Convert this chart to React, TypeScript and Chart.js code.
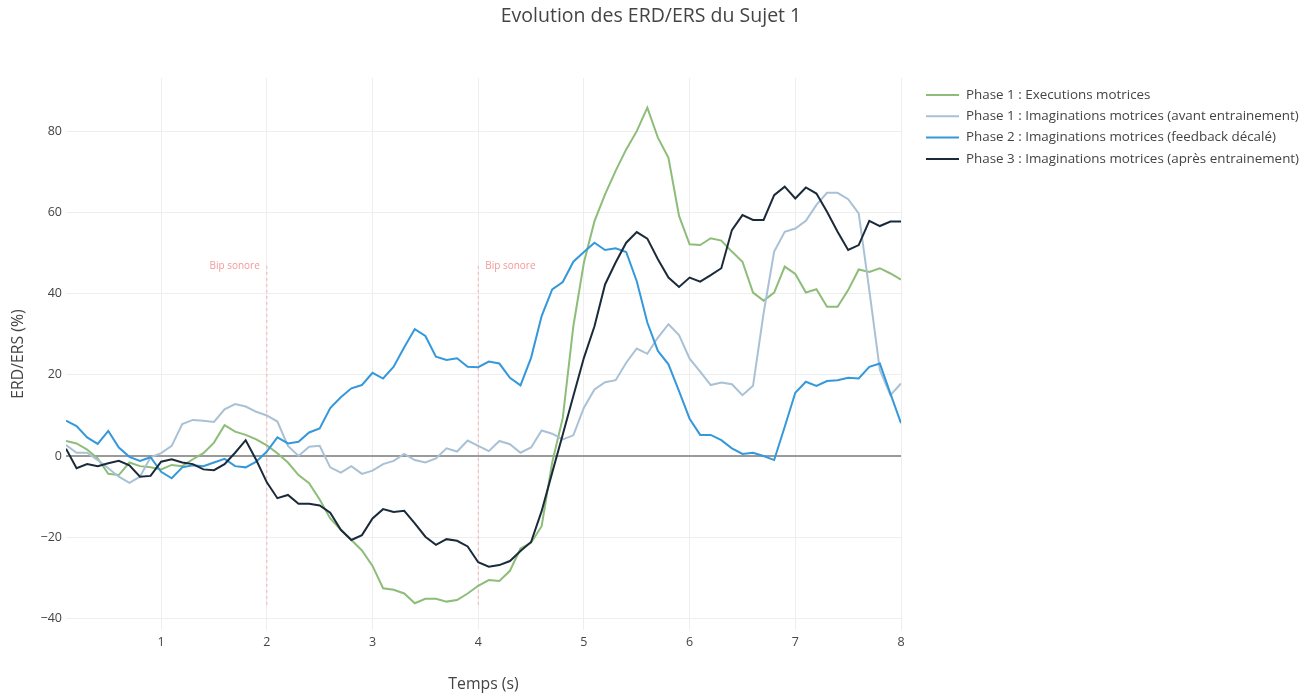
import { useEffect, useRef } from "react";
import { Chart, registerables } from "chart.js";

Chart.register(...registerables);

const chartTitle = "Evolution des ERD/ERS du Sujet 1";
const xAxisTitle = "Temps (s)";
const yAxisTitle = "ERD/ERS (%)";

const seriesNames = [
  "Phase 1 : Executions motrices",
  "Phase 1 : Imaginations motrices (avant entrainement)",
  "Phase 2 : Imaginations motrices (feedback décalé)",
  "Phase 3 : Imaginations motrices (après entrainement)",
];
const seriesColors = ["#8dbd79", "#a9c1d5", "#3498db", "#1b2a3a"];

// sample times (s): 0.1 .. 8.0 every 0.1 s
const times = Array.from({ length: 80 }, (_, i) => Math.round((i + 1)) / 10);

const phase1Exec = [
  3.7, 3.1, 1.6, -0.6, -4.4, -4.7, -1.6, -2.5, -2.8, -3.3,
  -2.2, -2.5, -0.8, 0.7, 3.3, 7.6, 6.0, 5.2, 4.1, 2.6,
  0.7, -1.6, -4.7, -6.7, -10.7, -15.4, -18.2, -20.7, -23.3, -27.1,
  -32.6, -33.0, -33.9, -36.3, -35.2, -35.2, -35.9, -35.5, -33.9, -32.0,
  -30.6, -30.8, -28.3, -22.8, -21.4, -17.3, -1.6, 9.4, 32.0, 47.7,
  57.9, 64.5, 70.3, 75.6, 80.1, 85.9, 78.5, 73.5, 59.2, 52.2,
  52.0, 53.7, 53.1, 50.4, 47.9, 40.3, 38.3, 40.3, 46.7, 44.9,
  40.3, 41.1, 36.8, 36.8, 40.9, 46.0, 45.4, 46.3, 45.0, 43.5,
];

const phase1Imag = [
  2.7, 0.8, 0.8, -1.0, -3.0, -5.1, -6.6, -5.1, -0.3, 0.7,
  2.5, 7.9, 8.9, 8.7, 8.4, 11.5, 12.8, 12.2, 10.9, 10.0,
  8.5, 2.5, 0.0, 2.3, 2.5, -2.8, -4.1, -2.5, -4.4, -3.6,
  -2.0, -1.2, 0.5, -1.0, -1.6, -0.6, 1.9, 1.1, 3.8, 2.5,
  1.2, 3.7, 2.9, 0.8, 2.1, 6.3, 5.5, 4.1, 5.1, 11.9,
  16.4, 18.2, 18.7, 23.0, 26.5, 25.2, 29.2, 32.5, 29.8, 24.0,
  20.8, 17.5, 18.1, 17.7, 15.0, 17.3, 35.2, 50.4, 55.3, 56.1,
  58.0, 61.9, 64.9, 64.9, 63.3, 59.8, 40.9, 21.2, 15.0, 17.9,
];

const phase2Imag = [
  8.7, 7.4, 4.6, 3.0, 6.2, 2.1, -0.2, -1.2, -0.3, -3.9,
  -5.5, -2.8, -2.3, -2.5, -1.6, -0.7, -2.5, -2.8, -1.4, 1.1,
  4.6, 3.1, 3.5, 5.8, 6.8, 11.8, 14.5, 16.7, 17.5, 20.5,
  19.1, 22.0, 26.8, 31.3, 29.6, 24.5, 23.7, 24.1, 22.0, 21.9,
  23.3, 22.8, 19.3, 17.4, 24.2, 34.5, 41.1, 42.9, 47.9, 50.3,
  52.6, 50.8, 51.2, 50.3, 43.1, 32.9, 25.9, 22.6, 16.0, 9.2,
  5.2, 5.2, 3.9, 1.9, 0.5, 0.8, 0.0, -1.0, 7.2, 15.6,
  18.3, 17.3, 18.5, 18.7, 19.3, 19.1, 22.0, 22.8, 15.4, 8.1,
];

const phase3Imag = [
  1.8, -3.0, -2.0, -2.5, -1.8, -1.2, -2.3, -5.1, -4.9, -1.4,
  -0.8, -1.6, -2.0, -3.3, -3.5, -2.0, 0.8, 3.9, -1.0, -6.5,
  -10.4, -9.6, -11.8, -11.8, -12.2, -14.0, -18.2, -20.7, -19.5, -15.4,
  -13.1, -13.8, -13.5, -16.6, -19.9, -21.9, -20.5, -20.9, -22.3, -26.2,
  -27.3, -26.9, -25.9, -23.4, -21.2, -13.6, -4.1, 5.3, 14.8, 24.2,
  32.0, 42.3, 47.7, 52.6, 55.2, 53.6, 48.5, 44.0, 41.7, 44.0,
  43.0, 44.6, 46.3, 55.7, 59.4, 58.2, 58.2, 64.3, 66.4, 63.5,
  66.2, 64.7, 60.2, 55.3, 50.8, 52.0, 58.0, 56.7, 57.8, 57.8,
];

const xTicks = [1, 2, 3, 4, 5, 6, 7, 8];
const yTicks = [-40, -20, 0, 20, 40, 60, 80];
const xRange = [0.1, 8.0];
const yRange = [-42.9, 93.2];

const bipTimes = [2, 4];
const bipRange = [-36.7, 47.6];
const bipLabel = "Bip sonore";

const FONT = "'Open Sans', 'Noto Sans', sans-serif";

export default function App() {
  const ref = useRef<HTMLCanvasElement | null>(null);

  useEffect(() => {
    document.body.style.margin = "0";
    const canvas = ref.current;
    if (!canvas) return;

    const allSeries = [phase1Exec, phase1Imag, phase2Imag, phase3Imag];
    const datasets: any[] = allSeries.map((vals, i) => ({
      label: seriesNames[i],
      data: vals.map((v, k) => ({ x: times[k], y: v })),
      borderColor: seriesColors[i],
      backgroundColor: seriesColors[i],
      borderWidth: 2,
      pointRadius: 0,
      tension: 0,
      fill: false,
      order: 3 - i,
    }));
    bipTimes.forEach((t) => {
      datasets.push({
        label: "bip",
        data: [
          { x: t, y: bipRange[0] },
          { x: t, y: bipRange[1] },
        ],
        borderColor: "rgba(240,128,128,0.55)",
        borderWidth: 1,
        borderDash: [3, 3],
        pointRadius: 0,
        fill: false,
        order: 10,
      });
    });

    const overlay = {
      id: "overlay",
      afterDraw(chart: any) {
        const ctx = chart.ctx;
        const xs = chart.scales.x;
        const ys = chart.scales.y;
        ctx.save();
        // title
        ctx.fillStyle = "#444";
        ctx.font = `19.5px ${FONT}`;
        ctx.textAlign = "center";
        ctx.textBaseline = "middle";
        ctx.fillText(chartTitle, 651, 16);
        // axis titles
        ctx.font = `15.8px ${FONT}`;
        ctx.fillText(xAxisTitle, (chart.chartArea.left + chart.chartArea.right) / 2, 684);
        ctx.save();
        ctx.translate(18, (chart.chartArea.top + chart.chartArea.bottom) / 2);
        ctx.rotate(-Math.PI / 2);
        ctx.fillText(yAxisTitle, 0, 0);
        ctx.restore();
        // legend
        ctx.font = `13.4px ${FONT}`;
        ctx.textAlign = "left";
        seriesNames.forEach((name, i) => {
          const y = 95 + i * 21.3;
          ctx.strokeStyle = seriesColors[i];
          ctx.lineWidth = 2;
          ctx.beginPath();
          ctx.moveTo(926, y);
          ctx.lineTo(959, y);
          ctx.stroke();
          ctx.fillStyle = "#444";
          ctx.fillText(name, 966, y);
        });
        // bip labels
        ctx.font = `10px ${FONT}`;
        ctx.fillStyle = "rgba(240,128,128,0.8)";
        bipTimes.forEach((t, i) => {
          const px = xs.getPixelForValue(t);
          const py = ys.getPixelForValue(bipRange[1]) + 3;
          if (i === 0) {
            ctx.textAlign = "right";
            ctx.fillText(bipLabel, px - 7, py);
          } else {
            ctx.textAlign = "left";
            ctx.fillText(bipLabel, px + 7, py);
          }
        });
        ctx.restore();
      },
    };

    const chart = new Chart(canvas, {
      type: "line",
      data: { datasets },
      options: {
        animation: false,
        responsive: true,
        maintainAspectRatio: false,
        layout: { padding: { left: 0, right: 410, top: 78, bottom: 0 } },
        plugins: {
          legend: { display: false },
          title: { display: false },
          tooltip: { enabled: false },
        },
        scales: {
          x: {
            type: "linear",
            min: xRange[0],
            max: xRange[1],
            border: { display: false },
            grid: { color: "#eeeeee", lineWidth: 1, drawTicks: false },
            ticks: {
              color: "#444",
              font: { family: FONT, size: 12.5 },
              padding: 5,
              maxRotation: 0,
            },
            afterBuildTicks: (scale: any) => {
              scale.ticks = xTicks.map((v) => ({ value: v }));
            },
            afterFit: (scale: any) => {
              scale.height = 65;
            },
          },
          y: {
            type: "linear",
            min: yRange[0],
            max: yRange[1],
            border: { display: false },
            grid: {
              color: (c: any) => (c.tick && c.tick.value === 0 ? "#9a9a9a" : "#eeeeee"),
              lineWidth: (c: any) => (c.tick && c.tick.value === 0 ? 2 : 1),
              drawTicks: false,
            },
            ticks: {
              color: "#444",
              font: { family: FONT, size: 12.5 },
              padding: 4,
              callback: (v: any) => String(v).replace("-", "\u2212"),
            },
            afterBuildTicks: (scale: any) => {
              scale.ticks = yTicks.map((v) => ({ value: v }));
            },
            afterFit: (scale: any) => {
              scale.width = 66;
            },
          },
        },
      },
      plugins: [overlay],
    });

    return () => chart.destroy();
  }, []);

  return (
    <div style={{ position: "fixed", left: 0, top: 0, width: 1311, height: 695, background: "#fff" }}>
      <canvas ref={ref} />
    </div>
  );
}
